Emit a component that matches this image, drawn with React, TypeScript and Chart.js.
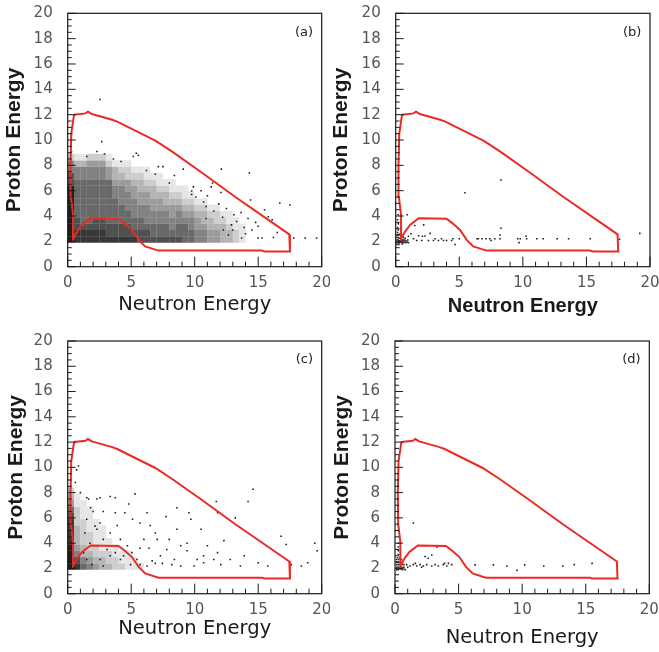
import React, { useEffect, useRef } from 'react';
import { Chart, registerables } from 'chart.js';

Chart.register(...registerables);

// ---------- axis ticks ----------
const X_TICK_LABELS = [0, 5, 10, 15, 20];
const Y_TICK_LABELS = [0, 2, 4, 6, 8, 10, 12, 14, 16, 18, 20];
const X_MINOR_MARKS = [0, 1, 2, 3, 4, 5, 6, 7, 8, 9, 10, 11, 12, 13, 14, 15, 16, 17, 18, 19, 20];
const Y_MINOR_MARKS = [0, 0.5, 1, 1.5, 2, 2.5, 3, 3.5, 4, 4.5, 5, 5.5, 6, 6.5, 7, 7.5, 8, 8.5, 9, 9.5, 10, 10.5, 11, 11.5, 12, 12.5, 13, 13.5, 14, 14.5, 15, 15.5, 16, 16.5, 17, 17.5, 18, 18.5, 19, 19.5, 20];

// ---------- selection contour (same in all panels) ----------
const CONTOUR_X = [0.5, 1.4, 1.6, 1.9, 3.5, 3.9, 6.9, 8.2, 10.6, 13.2, 15.8, 17.45, 17.5, 15.5, 15.3, 7.15, 6.1, 5.6, 5.06, 4.5, 4.0, 1.8, 1.13, 0.73, 0.42, 0.42, 0.25, 0.22, 0.28, 0.5];
const CONTOUR_Y = [12.0, 12.1, 12.24, 12.05, 11.6, 11.45, 9.95, 9.1, 7.4, 5.5, 3.7, 2.55, 1.2, 1.2, 1.27, 1.27, 1.6, 2.1, 2.9, 3.4, 3.78, 3.82, 3.3, 2.76, 2.2, 4.1, 5.5, 8.0, 10.5, 12.0];

// ---------- density cells (dense event regions) ----------
const DENS_X = [0.25, 0.75, 1.25, 1.75, 2.25, 2.75, 3.25, 3.75, 4.25, 4.75, 5.25, 5.75, 6.25, 6.75, 7.25, 7.75, 8.25, 8.75, 9.25, 9.75, 10.25, 10.75, 11.25, 11.75, 12.25, 12.75, 13.25, 13.75];
const DENS_Y = [2.15, 2.65, 3.15, 3.65, 4.15, 4.65, 5.15, 5.65, 6.15, 6.65, 7.15, 7.65, 8.15, 8.65];

const A_DENSITY = [
  [9, 8, 8, 8, 8, 8, 8, 8, 8, 8, 8, 7, 7, 7, 7, 7, 7, 7, 6, 6, 5, 5, 4, 4, 3, 3, 2, 1],
  [9, 8, 8, 8, 8, 8, 7, 7, 7, 7, 7, 7, 7, 6, 6, 6, 6, 6, 6, 6, 5, 5, 4, 4, 3, 3, 2, 1],
  [9, 7, 7, 7, 7, 7, 7, 7, 7, 7, 6, 6, 6, 6, 6, 6, 5, 6, 6, 5, 4, 4, 3, 3, 3, 2, 1, 1],
  [9, 7, 6, 6, 7, 7, 6, 6, 6, 6, 6, 6, 5, 5, 5, 5, 5, 5, 5, 5, 4, 3, 3, 2, 2, 1, 1, 0],
  [9, 6, 6, 6, 6, 6, 6, 6, 6, 6, 5, 5, 5, 5, 5, 5, 4, 5, 4, 4, 3, 3, 2, 2, 1, 1, 0, 0],
  [9, 6, 6, 6, 6, 6, 6, 6, 6, 5, 5, 5, 5, 4, 4, 4, 4, 4, 3, 3, 2, 2, 1, 1, 0, 0, 0, 0],
  [9, 6, 6, 6, 6, 6, 6, 6, 5, 5, 5, 4, 4, 4, 4, 3, 3, 3, 2, 2, 1, 1, 0, 0, 0, 0, 0, 0],
  [9, 6, 6, 6, 6, 6, 6, 5, 5, 5, 4, 4, 4, 3, 3, 3, 2, 2, 1, 1, 0, 0, 0, 0, 0, 0, 0, 0],
  [9, 6, 6, 6, 6, 6, 6, 5, 5, 4, 4, 3, 3, 3, 2, 2, 1, 1, 1, 0, 0, 0, 0, 0, 0, 0, 0, 0],
  [7, 6, 6, 6, 6, 6, 6, 4, 4, 4, 3, 3, 2, 2, 1, 1, 1, 0, 0, 0, 0, 0, 0, 0, 0, 0, 0, 0],
  [7, 5, 5, 5, 5, 5, 4, 3, 3, 2, 2, 2, 1, 1, 1, 0, 0, 0, 0, 0, 0, 0, 0, 0, 0, 0, 0, 0],
  [5, 5, 5, 5, 5, 5, 4, 3, 2, 2, 1, 1, 1, 0, 0, 0, 0, 0, 0, 0, 0, 0, 0, 0, 0, 0, 0, 0],
  [5, 3, 3, 4, 4, 4, 2, 1, 1, 1, 0, 0, 0, 0, 0, 0, 0, 0, 0, 0, 0, 0, 0, 0, 0, 0, 0, 0],
  [2, 1, 1, 2, 2, 2, 1, 0, 0, 0, 0, 0, 0, 0, 0, 0, 0, 0, 0, 0, 0, 0, 0, 0, 0, 0, 0, 0],
];

const C_DENSITY = [
  [9, 8, 6, 5, 4, 3, 3, 2, 2, 1, 1, 1],
  [9, 7, 5, 4, 3, 3, 2, 2, 1, 1, 1, 0],
  [9, 5, 3, 3, 2, 2, 2, 1, 1, 1, 0, 0],
  [9, 4, 3, 2, 2, 1, 1, 1, 0, 0, 0, 0],
  [8, 3, 2, 2, 1, 1, 1, 0, 0, 0, 0, 0],
  [8, 3, 2, 2, 1, 1, 0, 0, 0, 0, 0, 0],
  [8, 3, 2, 1, 1, 1, 0, 0, 0, 0, 0, 0],
  [8, 2, 2, 1, 1, 0, 0, 0, 0, 0, 0, 0],
  [7, 2, 1, 1, 0, 0, 0, 0, 0, 0, 0, 0],
  [6, 2, 1, 1, 0, 0, 0, 0, 0, 0, 0, 0],
  [4, 1, 1, 0, 0, 0, 0, 0, 0, 0, 0, 0],
  [3, 1, 0, 0, 0, 0, 0, 0, 0, 0, 0, 0],
  [2, 0, 0, 0, 0, 0, 0, 0, 0, 0, 0, 0],
];

// ---------- individual events ----------
const A_DOTS: [number, number][] = [
  [2.55, 13.2], [2.68, 9.87], [0.3, 10.5], [0.25, 9.6], [0.3, 9.1], [1.5, 8.7], [2.3, 9.1], [2.9, 8.9], [5.4, 8.95], [5.17, 8.7],
  [5.56, 8.8], [3.6, 8.5], [4.2, 8.3], [7.14, 7.9], [7.5, 7.9], [9.1, 7.7], [12.1, 7.7], [14.3, 7.4], [9.9, 6.3], [9.76, 5.98],
  [9.76, 5.7], [10.1, 5.5], [12.07, 5.85], [14.4, 5.27], [10.7, 5.1], [10.9, 4.75], [11.5, 4.4], [11.9, 4.96], [13.65, 4.28], [14.8, 3.5],
  [15.5, 4.5], [16.7, 5.03], [16.1, 3.7], [16.5, 2.7], [15.0, 2.26], [15.3, 2.26], [13.7, 2.26], [13.0, 2.9], [12.9, 3.3], [17.8, 2.26],
  [18.7, 2.26], [19.6, 2.26], [10.9, 3.8], [13.3, 3.57], [12.25, 2.9], [12.65, 2.5], [17.5, 4.87], [15.8, 3.95], [14.0, 2.6], [14.5, 2.9],
  [13.9, 3.1], [11.3, 6.3], [8.4, 7.2], [8.0, 6.6], [6.2, 7.6], [6.9, 7.3], [10.5, 6.0], [11.0, 5.6], [12.5, 4.6], [13.1, 4.1],
  [14.2, 3.8], [15.0, 3.2], [12.2, 3.9], [11.4, 6.6], [16.2, 2.3],
];

const B_DOTS: [number, number][] = [
  [0.1, 1.9], [0.2, 1.9], [0.3, 1.9], [0.4, 1.95], [0.5, 1.95], [0.6, 1.9], [0.7, 1.95], [0.8, 1.9], [0.9, 1.95], [1.0, 1.9],
  [0.1, 2.1], [0.2, 2.1], [0.3, 2.05], [0.4, 2.1], [0.5, 2.1], [0.6, 2.1], [0.7, 2.1], [0.8, 2.05], [0.95, 2.1],
  [0.1, 2.3], [0.2, 2.3], [0.3, 2.25], [0.45, 2.3], [0.6, 2.3], [0.75, 2.25],
  [0.1, 2.5], [0.2, 2.5], [0.3, 2.55], [0.5, 2.5], [0.15, 2.7], [0.2, 2.9], [0.15, 3.1], [0.2, 3.4], [0.15, 3.7], [0.2, 4.1],
  [0.1, 1.75], [0.25, 1.75], [0.5, 1.8],
  [1.4, 2.2], [1.65, 2.07], [1.8, 2.44], [2.05, 2.07], [2.1, 2.4], [2.3, 2.42], [2.57, 2.07], [2.7, 2.63], [2.97, 2.07], [3.1, 2.2],
  [3.36, 2.07], [3.6, 2.2], [3.76, 2.07], [4.0, 2.07], [4.4, 2.07], [4.67, 1.75], [4.5, 2.2], [5.0, 2.2], [6.4, 2.2], [6.5, 2.2],
  [6.8, 2.2], [7.1, 2.2], [7.4, 2.2], [7.5, 2.07], [7.8, 2.2], [8.2, 2.2], [8.2, 2.5], [8.28, 3.03], [9.6, 2.2], [9.7, 1.9],
  [9.8, 2.2], [10.25, 2.4], [10.3, 2.2], [11.1, 2.2], [11.6, 2.2], [12.7, 2.2], [13.6, 2.2], [15.3, 2.2], [17.6, 2.16], [19.2, 2.63],
  [5.45, 5.84], [8.28, 6.84], [1.5, 3.25], [2.2, 3.3], [0.9, 4.1], [1.2, 2.6], [1.0, 2.4],
];

const C_DOTS: [number, number][] = [
  [0.7, 9.8], [0.85, 10.1], [0.6, 8.8], [1.0, 8.0], [1.5, 7.6], [1.65, 7.5], [2.3, 7.5], [2.55, 7.6], [3.35, 7.7], [3.75, 7.6],
  [5.3, 7.9], [1.8, 6.8], [2.0, 6.5], [2.8, 6.5], [3.75, 6.4], [4.5, 6.4], [4.8, 7.1], [5.1, 5.9], [5.7, 5.6], [6.25, 6.4],
  [6.5, 5.4], [6.9, 4.8], [7.75, 6.1], [8.6, 6.8], [9.55, 6.4], [9.7, 5.9], [10.5, 5.1], [11.7, 7.3], [11.8, 6.4], [13.2, 6.0],
  [14.2, 7.3], [14.6, 8.26], [12.3, 4.2], [11.0, 3.8], [11.8, 3.25], [9.4, 4.0], [9.4, 3.4], [10.2, 2.7], [10.7, 2.45], [8.4, 2.7],
  [8.9, 2.2], [7.3, 3.0], [7.05, 4.3], [7.8, 3.5], [6.65, 2.6], [6.25, 2.2], [7.45, 2.4], [6.9, 2.4], [12.8, 2.7], [13.9, 3.0],
  [15.0, 2.45], [13.6, 2.2], [15.75, 2.2], [16.8, 4.55], [18.4, 2.2], [18.9, 2.45], [19.45, 4.0], [19.65, 3.4], [17.6, 2.3],
  [2.8, 4.3], [3.35, 4.8], [3.9, 5.4], [2.3, 5.1], [2.55, 5.6], [4.15, 4.3], [4.7, 3.8], [5.05, 3.25], [5.45, 2.7], [5.7, 2.3],
  [4.95, 2.3], [4.15, 2.7], [3.35, 3.0], [3.1, 3.5], [3.75, 3.25], [4.4, 3.0], [2.55, 2.7], [2.8, 2.2], [1.9, 2.3], [1.5, 2.7],
  [1.25, 3.25], [1.75, 4.0], [1.35, 4.8], [1.5, 5.9], [2.15, 5.35], [6.0, 4.3], [6.4, 3.6], [5.7, 3.6], [8.0, 4.3], [8.6, 5.1],
  [8.9, 3.8], [10.7, 3.0], [11.5, 2.7], [12.05, 2.3], [9.95, 2.2], [8.2, 2.3], [17.2, 3.9],
];

const D_DOTS: [number, number][] = [
  [0.13, 1.9], [0.25, 1.9], [0.4, 1.95], [0.55, 1.9], [0.7, 1.95], [0.8, 1.9], [0.13, 2.1], [0.25, 2.1], [0.4, 2.1], [0.55, 2.1],
  [0.7, 2.1], [0.13, 2.3], [0.25, 2.3], [0.4, 2.3], [0.55, 2.3], [0.7, 2.3], [0.13, 2.5], [0.25, 2.5], [0.4, 2.5], [0.6, 2.5],
  [0.13, 2.7], [0.3, 2.7], [0.5, 2.7], [0.2, 2.85], [0.4, 2.85], [0.26, 3.1], [0.26, 3.4], [0.26, 3.7], [0.26, 4.0],
  [0.92, 2.3], [1.18, 2.2], [1.44, 2.3], [1.71, 2.2], [1.97, 2.3], [2.23, 2.2], [2.49, 2.3], [2.89, 2.2], [3.15, 2.3], [3.41, 2.2],
  [3.8, 2.3], [3.9, 2.4], [4.07, 2.2], [4.2, 2.4], [4.46, 2.3], [1.0, 2.1], [1.6, 2.4], [2.1, 2.1],
  [2.36, 2.94], [2.62, 2.81], [2.89, 3.07], [3.3, 3.7], [1.44, 5.6], [6.3, 2.28], [7.74, 2.28], [8.8, 2.2], [9.6, 1.85],
  [10.2, 2.28], [11.7, 2.2], [13.2, 2.2], [14.1, 2.3], [15.5, 2.4],
];

// ---------- styling / layout ----------
const FONT = "'DejaVu Sans', sans-serif";
const BOLD_FONT = "'Liberation Sans', Arial, sans-serif";
const RED = '#ec2a24';
const AXIS = '#1a1a1a';

type Panel = {
  label: string;
  left: number; top: number; w: number; h: number;
  area: { l: number; r: number; t: number; b: number };
  dots: [number, number][];
  density: number[][] | null;
  yTitlePad: number;
  xTitlePad: number;
  xTitleBold: boolean;
};

const PANELS: Panel[] = [
  { label: '(a)', left: 0, top: 0, w: 330, h: 326, area: { l: 67.7, r: 321.7, t: 13.3, b: 266.7 }, dots: A_DOTS, density: A_DENSITY, yTitlePad: 2.1, xTitlePad: 9.3, xTitleBold: false },
  { label: '(b)', left: 330, top: 0, w: 329, h: 326, area: { l: 65.7, r: 320, t: 13.3, b: 266.7 }, dots: B_DOTS, density: null, yTitlePad: -1.5, xTitlePad: 8, xTitleBold: true },
  { label: '(c)', left: 0, top: 326, w: 330, h: 326, area: { l: 67.7, r: 321.7, t: 15, b: 267.7 }, dots: C_DOTS, density: C_DENSITY, yTitlePad: 3.9, xTitlePad: 11.3, xTitleBold: false },
  { label: '(d)', left: 330, top: 326, w: 329, h: 326, area: { l: 65, r: 319.3, t: 15, b: 267.7 }, dots: D_DOTS, density: null, yTitlePad: -0.6, xTitlePad: 2.3, xTitleBold: false },
];

function shade(d: number) {
  const g = Math.round(255 - d * 25);
  return `rgb(${g},${g},${g})`;
}

function makeFramePlugin(label: string) {
  return {
    id: 'frameAndTicks' + label.replace(/[()]/g, ''),
    afterDraw(chart: any) {
      const ctx = chart.ctx;
      const xs = chart.scales.x;
      const ys = chart.scales.y;
      const area = chart.chartArea;
      const left = area.left, right = area.right, top = area.top, bottom = area.bottom;
      ctx.save();
      ctx.strokeStyle = AXIS;
      ctx.lineWidth = 1.2;
      ctx.strokeRect(left, top, right - left, bottom - top);
      ctx.lineWidth = 1;
      X_MINOR_MARKS.forEach((v) => {
        const px = xs.getPixelForValue(v);
        const len = v % 5 === 0 ? 10 : 5;
        ctx.beginPath();
        ctx.moveTo(px, bottom);
        ctx.lineTo(px, bottom - len);
        ctx.stroke();
      });
      Y_MINOR_MARKS.forEach((v) => {
        const py = ys.getPixelForValue(v);
        const len = v % 2 === 0 ? 8 : 4;
        ctx.beginPath();
        ctx.moveTo(left, py);
        ctx.lineTo(left + len, py);
        ctx.stroke();
      });
      ctx.fillStyle = '#222';
      ctx.font = `13px ${FONT}`;
      ctx.textAlign = 'right';
      ctx.textBaseline = 'middle';
      ctx.fillText(label, right - 8.7, top + 19);
      ctx.restore();
    },
  };
}

function PanelChart({ p }: { p: Panel }) {
  const ref = useRef<HTMLCanvasElement>(null);
  useEffect(() => {
    const canvas = ref.current!;
    const densPts: { x: number; y: number }[] = [];
    const densCol: string[] = [];
    if (p.density) {
      p.density.forEach((row, r) =>
        row.forEach((d, c) => {
          if (d > 0) {
            densPts.push({ x: DENS_X[c], y: DENS_Y[r] });
            densCol.push(shade(d));
          }
        })
      );
    }
    const contour = CONTOUR_X.map((x, i) => ({ x, y: CONTOUR_Y[i] }));
    const dots = p.dots.map(([x, y]) => ({ x, y }));
    const chart = new Chart(canvas, {
      type: 'scatter',
      data: {
        datasets: [
          { data: contour, showLine: true, borderColor: RED, borderWidth: 2, pointRadius: 0, fill: false, tension: 0 } as any,
          { data: dots, pointStyle: 'rect', pointRadius: 1.1, pointBorderWidth: 0, pointBackgroundColor: '#1c1c1c', showLine: false } as any,
          { data: densPts, pointStyle: 'rect', pointRadius: 4.65, pointBorderWidth: 0, pointBackgroundColor: densCol, showLine: false } as any,
        ],
      },
      options: {
        responsive: false,
        animation: false,
        devicePixelRatio: 1,
        events: [],
        layout: { padding: { left: 0, top: p.area.t, right: p.w - p.area.r, bottom: 0 } },
        plugins: { legend: { display: false }, tooltip: { enabled: false } } as any,
        scales: {
          x: {
            type: 'linear',
            min: 0,
            max: 20,
            grid: { display: false, drawTicks: false },
            border: { display: false },
            ticks: { color: '#555', font: { family: FONT, size: 15 }, padding: 7, maxRotation: 0 },
            afterBuildTicks: (s: any) => { s.ticks = X_TICK_LABELS.map((v) => ({ value: v })); },
            afterFit: (s: any) => { s.height = p.h - p.area.b; s.paddingLeft = 0; s.paddingRight = 0; },
            title: {
              display: true,
              text: 'Neutron Energy',
              color: AXIS,
              font: p.xTitleBold ? { family: BOLD_FONT, size: 20, weight: 'bold' } : { family: FONT, size: 19.5, weight: 'normal' },
              padding: { top: 0, bottom: p.xTitlePad },
            },
          },
          y: {
            type: 'linear',
            min: 0,
            max: 20,
            grid: { display: false, drawTicks: false },
            border: { display: false },
            ticks: { color: '#555', font: { family: FONT, size: 15 }, padding: 15 },
            afterBuildTicks: (s: any) => { s.ticks = Y_TICK_LABELS.map((v) => ({ value: v })); },
            afterFit: (s: any) => { s.width = p.area.l; s.paddingTop = 0; s.paddingBottom = 0; },
            title: {
              display: true,
              text: 'Proton Energy',
              color: AXIS,
              font: { family: BOLD_FONT, size: 21, weight: 'bold' },
              padding: { top: p.yTitlePad, bottom: 0 },
            },
          },
        } as any,
      },
      plugins: [makeFramePlugin(p.label) as any],
    });
    return () => chart.destroy();
  }, [p]);
  return (
    <canvas
      ref={ref}
      width={p.w}
      height={p.h}
      style={{ position: 'absolute', left: p.left, top: p.top }}
    />
  );
}

export default function App() {
  return (
    <div style={{ position: 'absolute', left: 0, top: 0, width: 659, height: 652, background: '#fff' }}>
      {PANELS.map((p) => (
        <PanelChart key={p.label} p={p} />
      ))}
    </div>
  );
}
